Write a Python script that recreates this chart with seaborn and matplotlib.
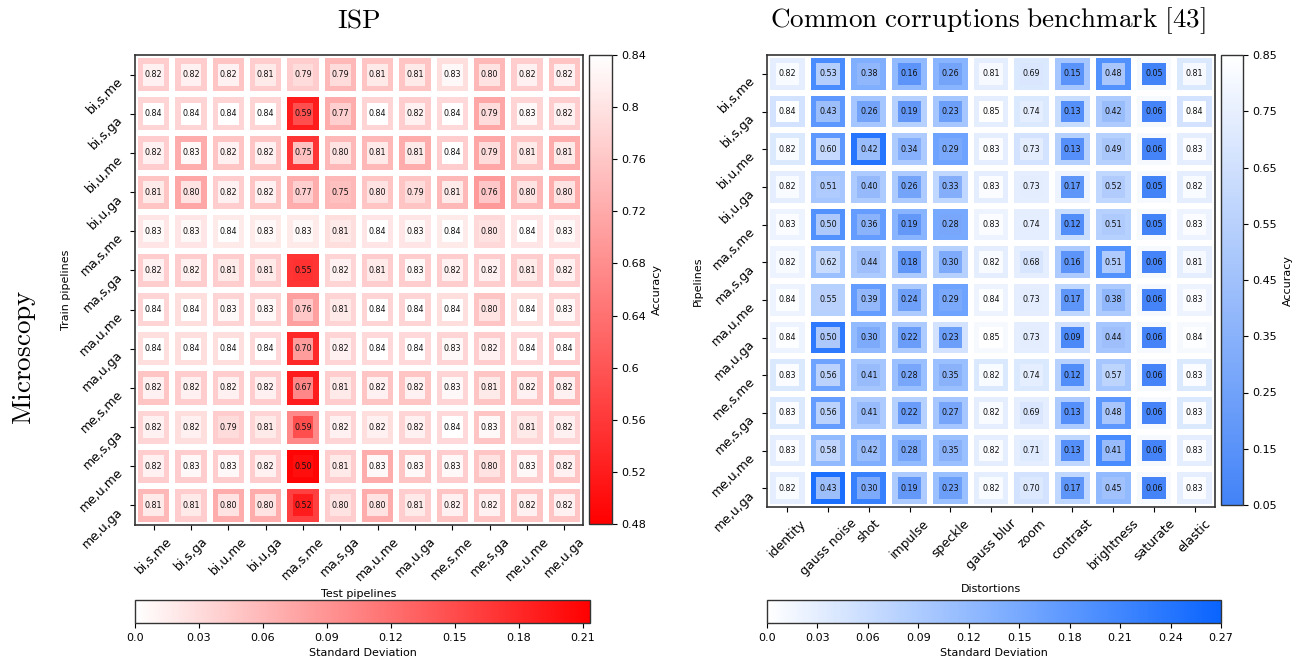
import numpy as np
import pandas as pd
import matplotlib
matplotlib.use("Agg")
import matplotlib.pyplot as plt
import seaborn as sns
from matplotlib.colors import LinearSegmentedColormap, Normalize
from matplotlib.patches import Rectangle
from matplotlib.cm import ScalarMappable

plt.rcParams['font.family'] = ['DejaVu Sans']
plt.rcParams['mathtext.fontset'] = 'cm'

pipelines = ["bi,s,me", "bi,s,ga", "bi,u,me", "bi,u,ga", "ma,s,me", "ma,s,ga",
             "ma,u,me", "ma,u,ga", "me,s,me", "me,s,ga", "me,u,me", "me,u,ga"]
distortions = ["identity", "gauss noise", "shot", "impulse", "speckle", "gauss blur",
               "zoom", "contrast", "brightness", "saturate", "elastic"]

isp_acc = [
    [0.82, 0.82, 0.82, 0.81, 0.79, 0.79, 0.81, 0.81, 0.83, 0.80, 0.82, 0.82],
    [0.84, 0.84, 0.84, 0.84, 0.59, 0.77, 0.84, 0.82, 0.84, 0.79, 0.83, 0.82],
    [0.82, 0.83, 0.82, 0.82, 0.75, 0.80, 0.81, 0.81, 0.84, 0.79, 0.81, 0.81],
    [0.81, 0.80, 0.82, 0.82, 0.77, 0.75, 0.80, 0.79, 0.81, 0.76, 0.80, 0.80],
    [0.83, 0.83, 0.84, 0.83, 0.83, 0.81, 0.84, 0.83, 0.84, 0.80, 0.84, 0.83],
    [0.82, 0.82, 0.81, 0.81, 0.55, 0.82, 0.81, 0.83, 0.82, 0.82, 0.81, 0.82],
    [0.84, 0.84, 0.83, 0.83, 0.76, 0.81, 0.84, 0.84, 0.84, 0.80, 0.84, 0.83],
    [0.84, 0.84, 0.84, 0.84, 0.70, 0.82, 0.84, 0.84, 0.83, 0.82, 0.84, 0.84],
    [0.82, 0.82, 0.82, 0.82, 0.67, 0.81, 0.82, 0.82, 0.83, 0.81, 0.82, 0.82],
    [0.82, 0.82, 0.79, 0.81, 0.59, 0.82, 0.82, 0.82, 0.84, 0.83, 0.81, 0.82],
    [0.82, 0.83, 0.83, 0.82, 0.50, 0.81, 0.83, 0.83, 0.83, 0.80, 0.83, 0.82],
    [0.81, 0.81, 0.80, 0.80, 0.52, 0.80, 0.80, 0.81, 0.82, 0.82, 0.82, 0.82],
]
isp_std = [
    [0.042, 0.042, 0.050, 0.042, 0.042, 0.060, 0.050, 0.050, 0.028, 0.060, 0.042, 0.050],
    [0.036, 0.036, 0.036, 0.036, 0.190, 0.070, 0.036, 0.042, 0.032, 0.075, 0.036, 0.042],
    [0.042, 0.070, 0.050, 0.050, 0.170, 0.060, 0.060, 0.070, 0.042, 0.075, 0.050, 0.070],
    [0.050, 0.075, 0.042, 0.050, 0.070, 0.060, 0.050, 0.050, 0.060, 0.085, 0.060, 0.070],
    [0.022, 0.022, 0.018, 0.018, 0.018, 0.028, 0.022, 0.022, 0.018, 0.032, 0.022, 0.022],
    [0.042, 0.042, 0.042, 0.042, 0.170, 0.036, 0.042, 0.042, 0.042, 0.042, 0.042, 0.042],
    [0.036, 0.028, 0.036, 0.036, 0.080, 0.036, 0.036, 0.036, 0.028, 0.050, 0.028, 0.036],
    [0.028, 0.028, 0.028, 0.032, 0.180, 0.036, 0.032, 0.032, 0.036, 0.042, 0.032, 0.042],
    [0.050, 0.042, 0.042, 0.042, 0.190, 0.042, 0.050, 0.050, 0.036, 0.050, 0.050, 0.060],
    [0.036, 0.028, 0.042, 0.036, 0.100, 0.036, 0.028, 0.036, 0.032, 0.050, 0.036, 0.036],
    [0.042, 0.042, 0.042, 0.042, 0.210, 0.042, 0.070, 0.050, 0.042, 0.050, 0.042, 0.050],
    [0.060, 0.042, 0.070, 0.070, 0.160, 0.042, 0.070, 0.042, 0.050, 0.050, 0.050, 0.050],
]

cc_acc = [
    [0.82, 0.53, 0.38, 0.16, 0.26, 0.81, 0.69, 0.15, 0.48, 0.05, 0.81],
    [0.84, 0.43, 0.26, 0.19, 0.23, 0.85, 0.74, 0.13, 0.42, 0.06, 0.84],
    [0.82, 0.60, 0.42, 0.34, 0.29, 0.83, 0.73, 0.13, 0.49, 0.06, 0.83],
    [0.82, 0.51, 0.40, 0.26, 0.33, 0.83, 0.73, 0.17, 0.52, 0.05, 0.82],
    [0.83, 0.50, 0.36, 0.19, 0.28, 0.83, 0.74, 0.12, 0.51, 0.05, 0.83],
    [0.82, 0.62, 0.44, 0.18, 0.30, 0.82, 0.68, 0.16, 0.51, 0.06, 0.81],
    [0.84, 0.55, 0.39, 0.24, 0.29, 0.84, 0.73, 0.17, 0.38, 0.06, 0.83],
    [0.84, 0.50, 0.30, 0.22, 0.23, 0.85, 0.73, 0.09, 0.44, 0.06, 0.84],
    [0.83, 0.56, 0.41, 0.28, 0.35, 0.82, 0.74, 0.12, 0.57, 0.06, 0.83],
    [0.83, 0.56, 0.41, 0.22, 0.27, 0.82, 0.69, 0.13, 0.48, 0.06, 0.83],
    [0.83, 0.58, 0.42, 0.28, 0.35, 0.82, 0.71, 0.13, 0.41, 0.06, 0.83],
    [0.82, 0.43, 0.30, 0.19, 0.23, 0.82, 0.70, 0.17, 0.45, 0.06, 0.83],
]
cc_std = [
    [0.03, 0.20, 0.14, 0.12, 0.13, 0.03, 0.04, 0.10, 0.19, 0.01, 0.04],
    [0.05, 0.18, 0.10, 0.08, 0.10, 0.03, 0.04, 0.06, 0.09, 0.01, 0.05],
    [0.04, 0.18, 0.24, 0.09, 0.16, 0.03, 0.05, 0.08, 0.08, 0.01, 0.03],
    [0.03, 0.10, 0.09, 0.09, 0.07, 0.03, 0.03, 0.02, 0.07, 0.01, 0.03],
    [0.02, 0.19, 0.17, 0.13, 0.15, 0.02, 0.03, 0.06, 0.08, 0.01, 0.02],
    [0.02, 0.11, 0.09, 0.09, 0.08, 0.03, 0.03, 0.09, 0.19, 0.01, 0.03],
    [0.02, 0.08, 0.17, 0.09, 0.16, 0.02, 0.03, 0.07, 0.09, 0.01, 0.02],
    [0.02, 0.23, 0.12, 0.09, 0.05, 0.01, 0.03, 0.05, 0.10, 0.01, 0.01],
    [0.04, 0.16, 0.10, 0.11, 0.11, 0.04, 0.04, 0.08, 0.10, 0.01, 0.04],
    [0.04, 0.17, 0.09, 0.08, 0.10, 0.03, 0.03, 0.09, 0.18, 0.01, 0.04],
    [0.03, 0.12, 0.14, 0.12, 0.11, 0.03, 0.03, 0.07, 0.20, 0.01, 0.03],
    [0.03, 0.25, 0.22, 0.09, 0.11, 0.03, 0.05, 0.07, 0.12, 0.01, 0.03],
]

isp_acc_ticks = [0.48, 0.52, 0.56, 0.60, 0.64, 0.68, 0.72, 0.76, 0.80, 0.84]
isp_acc_labels = ["0.48", "0.52", "0.56", "0.6", "0.64", "0.68", "0.72", "0.76", "0.8", "0.84"]
isp_std_ticks = [0.0, 0.03, 0.06, 0.09, 0.12, 0.15, 0.18, 0.21]
isp_std_labels = ["0.0", "0.03", "0.06", "0.09", "0.12", "0.15", "0.18", "0.21"]
cc_acc_ticks = [0.05, 0.15, 0.25, 0.35, 0.45, 0.55, 0.65, 0.75, 0.85]
cc_acc_labels = ["0.05", "0.15", "0.25", "0.35", "0.45", "0.55", "0.65", "0.75", "0.85"]
cc_std_ticks = [0.0, 0.03, 0.06, 0.09, 0.12, 0.15, 0.18, 0.21, 0.24, 0.27]
cc_std_labels = ["0.0", "0.03", "0.06", "0.09", "0.12", "0.15", "0.18", "0.21", "0.24", "0.27"]

red_std = LinearSegmentedColormap.from_list("red_std", ["#ffffff", "#ff0000"])
red_acc = LinearSegmentedColormap.from_list("red_acc", ["#ff0000", "#ffffff"])
blue_std = LinearSegmentedColormap.from_list("blue_std", ["#ffffff", "#0a64ff"])
blue_acc = LinearSegmentedColormap.from_list("blue_acc", ["#4283f8", "#ffffff"])

W, H = 1294, 658
fig = plt.figure(figsize=(W / 100, H / 100), dpi=100)


def px(x0, y0, x1, y1):
    return [x0 / W, 1 - y1 / H, (x1 - x0) / W, (y1 - y0) / H]


def panel(rect, acc_rect, std_rect, acc, std, xlabels, ylabels, acc_cmap, std_cmap,
          acc_lim, std_lim, acc_ticks, acc_labels, std_ticks, std_labels,
          xlabel, ylabel, inner):
    ax = fig.add_axes(px(*rect))
    cax_acc = fig.add_axes(px(*acc_rect))
    cax_std = fig.add_axes(px(*std_rect))
    df = pd.DataFrame(std, index=ylabels, columns=xlabels)
    sns.heatmap(df, ax=ax, cmap=std_cmap, vmin=std_lim[0], vmax=std_lim[1],
                linewidths=4.2, linecolor="white",
                annot=np.array(acc), fmt=".2f",
                annot_kws={"fontsize": 5.8, "color": "#111111"},
                cbar_ax=cax_std, cbar_kws={"orientation": "horizontal"})
    norm = Normalize(*acc_lim)
    acc_arr = np.array(acc)
    for i in range(acc_arr.shape[0]):
        for j in range(acc_arr.shape[1]):
            ax.add_patch(Rectangle((j + 0.5 - inner / 2, i + 0.5 - inner / 2), inner, inner,
                                   facecolor=acc_cmap(norm(acc_arr[i, j])),
                                   edgecolor="none", zorder=2))
    for s in ax.spines.values():
        s.set_visible(True)
        s.set_color("#333333")
        s.set_linewidth(1.2)
    ax.set_xticks(np.arange(len(xlabels)) + 0.5)
    ax.set_yticks(np.arange(len(ylabels)) + 0.5)
    ax.set_xticklabels(xlabels, rotation=45, fontsize=9)
    ax.set_yticklabels(ylabels, rotation=45, ha="right", va="top", fontsize=9)
    ax.set_xlabel(xlabel, fontsize=8)
    ax.set_ylabel(ylabel, fontsize=8)

    cb_std = ax.collections[0].colorbar
    cb_std.outline.set_linewidth(1.0)
    cb_std.outline.set_edgecolor("#333333")
    cb_std.set_ticks(std_ticks)
    cb_std.set_ticklabels(std_labels)
    cb_std.ax.tick_params(labelsize=8)
    cb_std.set_label("Standard Deviation", fontsize=8)

    sm = ScalarMappable(norm=norm, cmap=acc_cmap)
    cb_acc = fig.colorbar(sm, cax=cax_acc)
    cb_acc.outline.set_linewidth(1.0)
    cb_acc.outline.set_edgecolor("#333333")
    cb_acc.set_ticks(acc_ticks)
    cb_acc.set_ticklabels(acc_labels)
    cb_acc.ax.tick_params(labelsize=8)
    cb_acc.set_label("Accuracy", fontsize=8)
    return ax


panel((135, 55, 583, 525), (589, 55, 612, 524), (135, 600, 590, 623),
      isp_acc, isp_std, pipelines, pipelines, red_acc, red_std,
      (0.48, 0.84), (0.0, 0.2135), isp_acc_ticks, isp_acc_labels,
      isp_std_ticks, isp_std_labels, "Test pipelines", "Train pipelines", 0.56)

panel((767, 55, 1215, 507), (1221, 55, 1243, 505), (767, 600, 1221, 623),
      cc_acc, cc_std, distortions, pipelines, blue_acc, blue_std,
      (0.05, 0.85), (0.0, 0.27), cc_acc_ticks, cc_acc_labels,
      cc_std_ticks, cc_std_labels, "Distortions", "Pipelines", 0.57)

fig.text(359 / W, 1 - 21 / H, r"$\mathrm{ISP}$", fontsize=19.5, ha="center", va="center")
fig.text(988 / W, 1 - 21 / H, r"$\mathrm{Common\ corruptions\ benchmark\ [43]}$",
         fontsize=19.5, ha="center", va="center")
fig.text(25 / W, 1 - 357 / H, r"$\mathrm{Microscopy}$", fontsize=19.5, rotation=90,
         ha="center", va="center")

fig.savefig("out.png", dpi=100)
